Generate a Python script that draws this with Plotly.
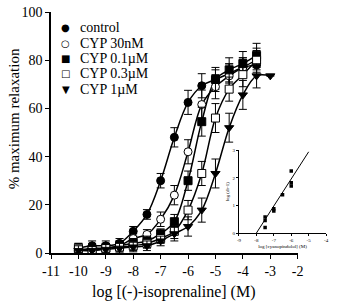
import plotly.graph_objects as go

# ---- data ----
log_conc = [-10, -9.5, -9, -8.5, -8, -7.5, -7, -6.5, -6, -5.5, -5, -4.5, -4, -3.5, -3]

control = [2, 3, 3, 4, 9, 16, 30, 48, 62.5, 69.4, 72, 74.5, 77, 78]
control_err = [2, 2, 2, 2, 2, 2, 3, 4, 5, 5, 4, 4, 4, 4]

cyp30n = [1, 2, 2, 3, 6, 7.7, 14, 24, 42, 61.6, 69, 73.5, 77, 80]
cyp30n_err = [2, 2, 2, 2, 2, 2, 3, 4, 5, 6, 5, 5, 4, 4]

cyp01u = [1, 1.5, 2, 3, 4, 5, 8, 13, 30, 54.5, 72, 76, 78.6, 82]
cyp01u_err = [2, 2, 2, 2, 2, 2, 2, 3, 4, 6, 5, 5, 5, 5]

cyp03u = [2, 1, 2, 2.5, 3, 4, 6, 9, 17.8, 33, 56, 68, 74, 80]
cyp03u_err = [2, 2, 2, 2, 2, 2, 2, 3, 4, 5, 6, 5, 5, 5]

cyp1u = [1, 1, 1.5, 2, 2.5, 3, 5, 8, 11, 17.8, 33, 52, 65.6, 73.5, 73.5]
cyp1u_err = [2, 2, 2, 2, 2, 2, 2, 3, 4, 5, 6, 6, 6, 5, 0]

series_names = ["control", "CYP 30nM", "CYP 0.1µM", "CYP 0.3µM", "CYP 1µM"]
series_vals = [control, cyp30n, cyp01u, cyp03u, cyp1u]
series_errs = [control_err, cyp30n_err, cyp01u_err, cyp03u_err, cyp1u_err]
series_symbols = ["circle", "circle", "square", "square", "triangle-down"]
series_fill = ["black", "white", "black", "white", "black"]
legend_glyphs = ["●", "○", "■", "□", "▼"]

# Schild plot inset
schild_x = [-7.5, -7.5, -7.5, -7, -7, -6.5, -6, -6, -6]
schild_y = [0.58, 0.46, 0.2, 0.88, 0.8, 1.39, 1.83, 1.71, 2.25]
schild_fit_x = [-8, -5]
schild_fit_y = [0, 2.95]

x_ticks = [-11, -10, -9, -8, -7, -6, -5, -4, -3, -2]
x_ticklabels = ["-11", "-10", "-9", "-8", "-7", "-6", "-5", "-4", "-3", "-2"]
y_ticks = [0, 20, 40, 60, 80, 100]
inset_x_ticks = [-9, -8, -7, -6, -5, -4]
inset_x_labels = ["-9", "-8", "-7", "-6", "-5", "-4"]
inset_y_ticks = [0, 1, 2, 3]

FONT = "Liberation Serif"
W, H = 341, 304
ML, MR, MT, MB = 51, 5, 11, 51
PW = W - ML - MR
PH = H - MT - MB

fig = go.Figure()

for name, vals, errs, sym, fill in zip(series_names, series_vals, series_errs,
                                       series_symbols, series_fill):
    xs = log_conc[:len(vals)]
    fig.add_trace(go.Scatter(
        x=xs, y=vals, mode="lines", showlegend=False,
        line=dict(color="black", width=1.5, shape="spline", smoothing=1.0),
        hoverinfo="skip"))
for name, vals, errs, sym, fill in zip(series_names, series_vals, series_errs,
                                       series_symbols, series_fill):
    xs = log_conc[:len(vals)]
    fig.add_trace(go.Scatter(
        x=xs, y=vals, mode="markers", name=name, showlegend=False,
        marker=dict(symbol=sym, size=8, color=fill,
                    line=dict(color="black", width=1)),
        error_y=dict(type="data", array=errs, visible=True,
                     color="black", thickness=1, width=4)))

# inset
fig.add_trace(go.Scatter(
    x=schild_fit_x, y=schild_fit_y, mode="lines", showlegend=False,
    line=dict(color="black", width=1), xaxis="x2", yaxis="y2"))
fig.add_trace(go.Scatter(
    x=schild_x, y=schild_y, mode="markers", showlegend=False,
    marker=dict(symbol="square", size=3.5, color="black"),
    xaxis="x2", yaxis="y2"))

# legend drawn as text annotations
annotations = []
legend_top_px = 27
legend_step_px = 15.4
for i, (glyph, name) in enumerate(zip(legend_glyphs, series_names)):
    py = legend_top_px + i * legend_step_px
    yp = (H - MB - py) / PH
    annotations.append(dict(
        x=(66 - ML) / PW, y=yp, xref="paper", yref="paper",
        text=glyph, showarrow=False, xanchor="center", yanchor="middle",
        font=dict(size=10, family="DejaVu Sans", color="black")))
    annotations.append(dict(
        x=(79 - ML) / PW, y=yp, xref="paper", yref="paper",
        text=name, showarrow=False, xanchor="left", yanchor="middle",
        font=dict(size=14, family=FONT, color="black")))

# axis titles
annotations.append(dict(
    x=(177 - ML) / PW, y=(H - MB - 292) / PH, xref="paper", yref="paper",
    text="log [(-)-isoprenaline] (M)", showarrow=False,
    xanchor="center", yanchor="middle",
    font=dict(size=16, family=FONT, color="black")))
annotations.append(dict(
    x=(13 - ML) / PW, y=(H - MB - 118) / PH, xref="paper", yref="paper",
    text="% maximum relaxation", showarrow=False, textangle=-90,
    xanchor="center", yanchor="middle",
    font=dict(size=15, family=FONT, color="black")))

fig.update_layout(
    width=W, height=H,
    margin=dict(l=ML, r=MR, t=MT, b=MB),
    paper_bgcolor="white", plot_bgcolor="white",
    font=dict(family=FONT, color="black", size=14),
    xaxis=dict(domain=[0, 252 / PW], range=[-11, -2],
               tickvals=x_ticks, ticktext=x_ticklabels,
               showline=True, linecolor="black", linewidth=1.5,
               ticks="outside", ticklen=4, tickcolor="black",
               showgrid=False, zeroline=False,
               tickfont=dict(size=14, family=FONT)),
    yaxis=dict(range=[0, 100], tickvals=y_ticks,
               showline=True, linecolor="black", linewidth=1.5,
               ticks="outside", ticklen=4, tickcolor="black",
               showgrid=False, zeroline=False,
               tickfont=dict(size=14, family=FONT)),
    xaxis2=dict(domain=[(243 - ML) / PW, (332 - ML) / PW], anchor="y2",
                range=[-9, -4], tickvals=inset_x_ticks, ticktext=inset_x_labels,
                showline=True, linecolor="black", linewidth=1,
                ticks="outside", ticklen=2, tickcolor="black",
                showgrid=False, zeroline=False,
                tickfont=dict(size=5, family=FONT),
                title=dict(text="log [cyanopindolol] (M)",
                           font=dict(size=5, family=FONT), standoff=2)),
    yaxis2=dict(domain=[(H - MB - 233) / PH, (H - MB - 150) / PH], anchor="x2",
                range=[0, 3], tickvals=inset_y_ticks,
                showline=True, linecolor="black", linewidth=1,
                ticks="outside", ticklen=2, tickcolor="black",
                showgrid=False, zeroline=False,
                tickfont=dict(size=5, family=FONT),
                title=dict(text="log (dr-1)",
                           font=dict(size=5, family=FONT), standoff=2)),
    annotations=annotations,
    showlegend=False,
)

fig.write_html("out.html",
               config={"displayModeBar": False},
               post_script="document.body.style.margin='0';"
                           "document.body.style.overflow='hidden';")
